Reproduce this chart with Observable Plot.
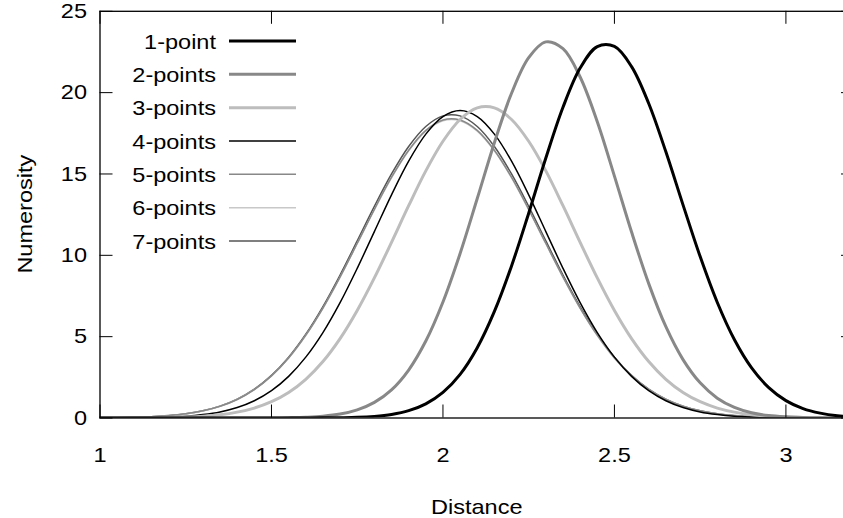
<!DOCTYPE html>
<html>
<head>
<meta charset="utf-8">
<script src="https://cdn.jsdelivr.net/npm/d3@7"></script>
<script src="https://cdn.jsdelivr.net/npm/@observablehq/plot@0.6"></script>
<style>
  html, body { margin: 0; padding: 0; background: #fff; overflow: hidden; }
  #wrap { width: 843px; height: 518px; overflow: hidden; position: relative; background: #fff; }
  #wrap svg { max-width: none !important; display: block; }
</style>
</head>
<body>
<div id="wrap"></div>
<script>
// ---- data ----
const distance = [1.00,1.05,1.10,1.15,1.20,1.25,1.30,1.35,1.40,1.45,1.50,1.55,1.60,1.65,1.70,1.75,1.80,1.85,1.90,1.95,2.00,2.05,2.10,2.15,2.20,2.25,2.30,2.35,2.40,2.45,2.50,2.55,2.60,2.65,2.70,2.75,2.80,2.85,2.90,2.95,3.00,3.05,3.10,3.15,3.20];

const points1 = [0,0,0,0,0,0,0,0,0,0,0,0,0,0.01,0.02,0.04,0.10,0.22,0.45,0.87,1.57,2.68,4.32,6.55,9.35,12.59,15.98,19.10,21.51,22.83,22.84,21.60,19.33,16.36,13.10,9.92,7.10,4.81,3.08,1.87,1.07,0.58,0.30,0.14,0.07];
const points2 = [0,0,0,0,0,0,0,0,0,0,0,0.02,0.05,0.11,0.24,0.50,0.96,1.73,2.95,4.73,7.13,10.11,13.49,16.92,19.96,22.15,23.12,22.70,20.96,18.21,14.87,11.43,8.26,5.61,3.59,2.16,1.22,0.65,0.32,0.15,0.07,0.03,0.01,0,0];
const points3 = [0,0,0.01,0.01,0.03,0.06,0.11,0.20,0.36,0.61,1.00,1.57,2.38,3.47,4.88,6.61,8.61,10.80,13.05,15.19,17.01,18.35,19.06,19.06,18.35,17.01,15.19,13.05,10.80,8.61,6.61,4.88,3.47,2.38,1.57,1.00,0.61,0.36,0.20,0.11,0.06,0.03,0.01,0.01,0];
const points4 = [0,0.01,0.01,0.03,0.06,0.11,0.21,0.37,0.64,1.06,1.68,2.56,3.74,5.25,7.09,9.20,11.46,13.72,15.79,17.45,18.53,18.90,18.53,17.45,15.79,13.72,11.46,9.20,7.09,5.25,3.74,2.56,1.68,1.06,0.64,0.37,0.21,0.11,0.06,0.03,0.01,0.01,0,0,0];
const points5 = [0.01,0.02,0.04,0.08,0.14,0.26,0.44,0.72,1.14,1.75,2.59,3.69,5.09,6.76,8.67,10.74,12.83,14.80,16.46,17.68,18.32,18.32,17.68,16.46,14.80,12.83,10.74,8.67,6.76,5.09,3.69,2.59,1.75,1.14,0.72,0.44,0.26,0.14,0.08,0.04,0.02,0.01,0,0,0];
const points6 = [0.01,0.02,0.04,0.08,0.14,0.25,0.43,0.72,1.14,1.74,2.58,3.68,5.07,6.74,8.65,10.71,12.80,14.76,16.42,17.63,18.27,18.27,17.63,16.42,14.76,12.80,10.71,8.65,6.74,5.07,3.68,2.58,1.74,1.14,0.72,0.43,0.25,0.14,0.08,0.04,0.02,0.01,0,0,0];
const points7 = [0.01,0.02,0.04,0.08,0.15,0.26,0.44,0.73,1.16,1.77,2.62,3.74,5.15,6.85,8.79,10.89,13.01,15.00,16.69,17.92,18.57,18.57,17.92,16.69,15.00,13.01,10.89,8.79,6.85,5.15,3.74,2.62,1.77,1.16,0.73,0.44,0.26,0.15,0.08,0.04,0.02,0.01,0,0,0];

const seriesNames = ["1-point","2-points","3-points","4-points","5-points","6-points","7-points"];
const seriesValues = [points1, points2, points3, points4, points5, points6, points7];
const xTicks = [1, 1.5, 2, 2.5, 3];
const yTicks = [0, 5, 10, 15, 20, 25];
const xLabel = "Distance";
const yLabel = "Numerosity";

// ---- styles ----
const seriesColors = ["#000000","#888888","#bdbdbd","#000000","#888888","#c8c8c8","#555555"];
const seriesWidths = [3, 3, 3, 1.5, 1.5, 1.5, 1.5];

// ---- layout ----
const W = 854, H = 518;
const mL = 99.5, mR = 0, mT = 10.8, mB = 100.5;
const frameW = W - mL - mR, frameH = H - mT - mB;
const tickLen = 13;
const FONT = "'Liberation Sans', Arial, Helvetica, sans-serif";
const FS = 21;
const SX = 1.12; // horizontal stretch of the text

const tables = seriesValues.map((vals, s) => distance.map((d, i) => ({x: d, y: vals[i], s: seriesNames[s]})));

const lineMarks = tables.map((t, s) => Plot.line(t, {
  x: "x", y: "y", stroke: seriesColors[s], strokeWidth: seriesWidths[s],
  curve: "catmull-rom", clip: true
})).reverse();

const chart = Plot.plot({
  width: W, height: H,
  marginLeft: mL, marginRight: mR, marginTop: mT, marginBottom: mB,
  style: {fontFamily: FONT, fontSize: FS + "px", color: "#000", background: "#fff", maxWidth: "none", overflow: "hidden"},
  x: {domain: [1, 3.2], ticks: xTicks},
  y: {domain: [0, 25], ticks: yTicks},
  marks: [
    ...lineMarks,
    // inward ticks on all four sides
    Plot.tickX(xTicks, {x: d => d, insetTop: frameH - tickLen, stroke: "#000", strokeWidth: 1}),
    Plot.tickX(xTicks, {x: d => d, insetBottom: frameH - tickLen, stroke: "#000", strokeWidth: 1}),
    Plot.tickY(yTicks, {y: d => d, insetRight: frameW - tickLen, stroke: "#000", strokeWidth: 1}),
    Plot.tickY(yTicks, {y: d => d, insetLeft: frameW - tickLen, stroke: "#000", strokeWidth: 1}),
    Plot.frame({stroke: "#000", strokeWidth: 1.3}),
    Plot.axisX(xTicks, {anchor: "bottom", tickSize: 0, tickPadding: 29, label: null, tickFormat: d => String(d)}),
    Plot.axisY(yTicks, {anchor: "left", tickSize: 0, tickPadding: 13, label: null, tickFormat: d => String(d)})
  ]
});

document.getElementById("wrap").appendChild(chart);
const svg = d3.select(chart);
svg.style("max-width", "none");

// axis titles
svg.append("text")
  .attr("x", mL + frameW / 2).attr("y", 514)
  .attr("text-anchor", "middle")
  .attr("font-family", FONT).attr("font-size", FS)
  .attr("fill", "#000")
  .text(xLabel);
svg.append("text")
  .attr("transform", `translate(32,${mT + frameH / 2}) rotate(-90)`)
  .attr("text-anchor", "middle")
  .attr("font-family", FONT).attr("font-size", FS)
  .attr("fill", "#000")
  .text(yLabel);

// legend (inside the frame, upper left)
const lg = svg.append("g");
seriesNames.forEach((name, i) => {
  const yy = 41 + i * 33.33;
  lg.append("text")
    .attr("x", 216).attr("y", yy).attr("dy", "0.36em")
    .attr("text-anchor", "end")
    .attr("font-family", FONT).attr("font-size", FS)
    .attr("fill", "#000")
    .text(name);
  lg.append("line")
    .attr("x1", 229).attr("x2", 296).attr("y1", yy).attr("y2", yy)
    .attr("stroke", seriesColors[i]).attr("stroke-width", seriesWidths[i]);
});

// stretch all texts horizontally along their baseline
svg.selectAll("text").each(function() {
  if (!this.textContent) return;
  const w = this.getComputedTextLength();
  if (w > 0) {
    this.setAttribute("textLength", (w * SX).toFixed(2));
    this.setAttribute("lengthAdjust", "spacingAndGlyphs");
  }
});
</script>
</body>
</html>
